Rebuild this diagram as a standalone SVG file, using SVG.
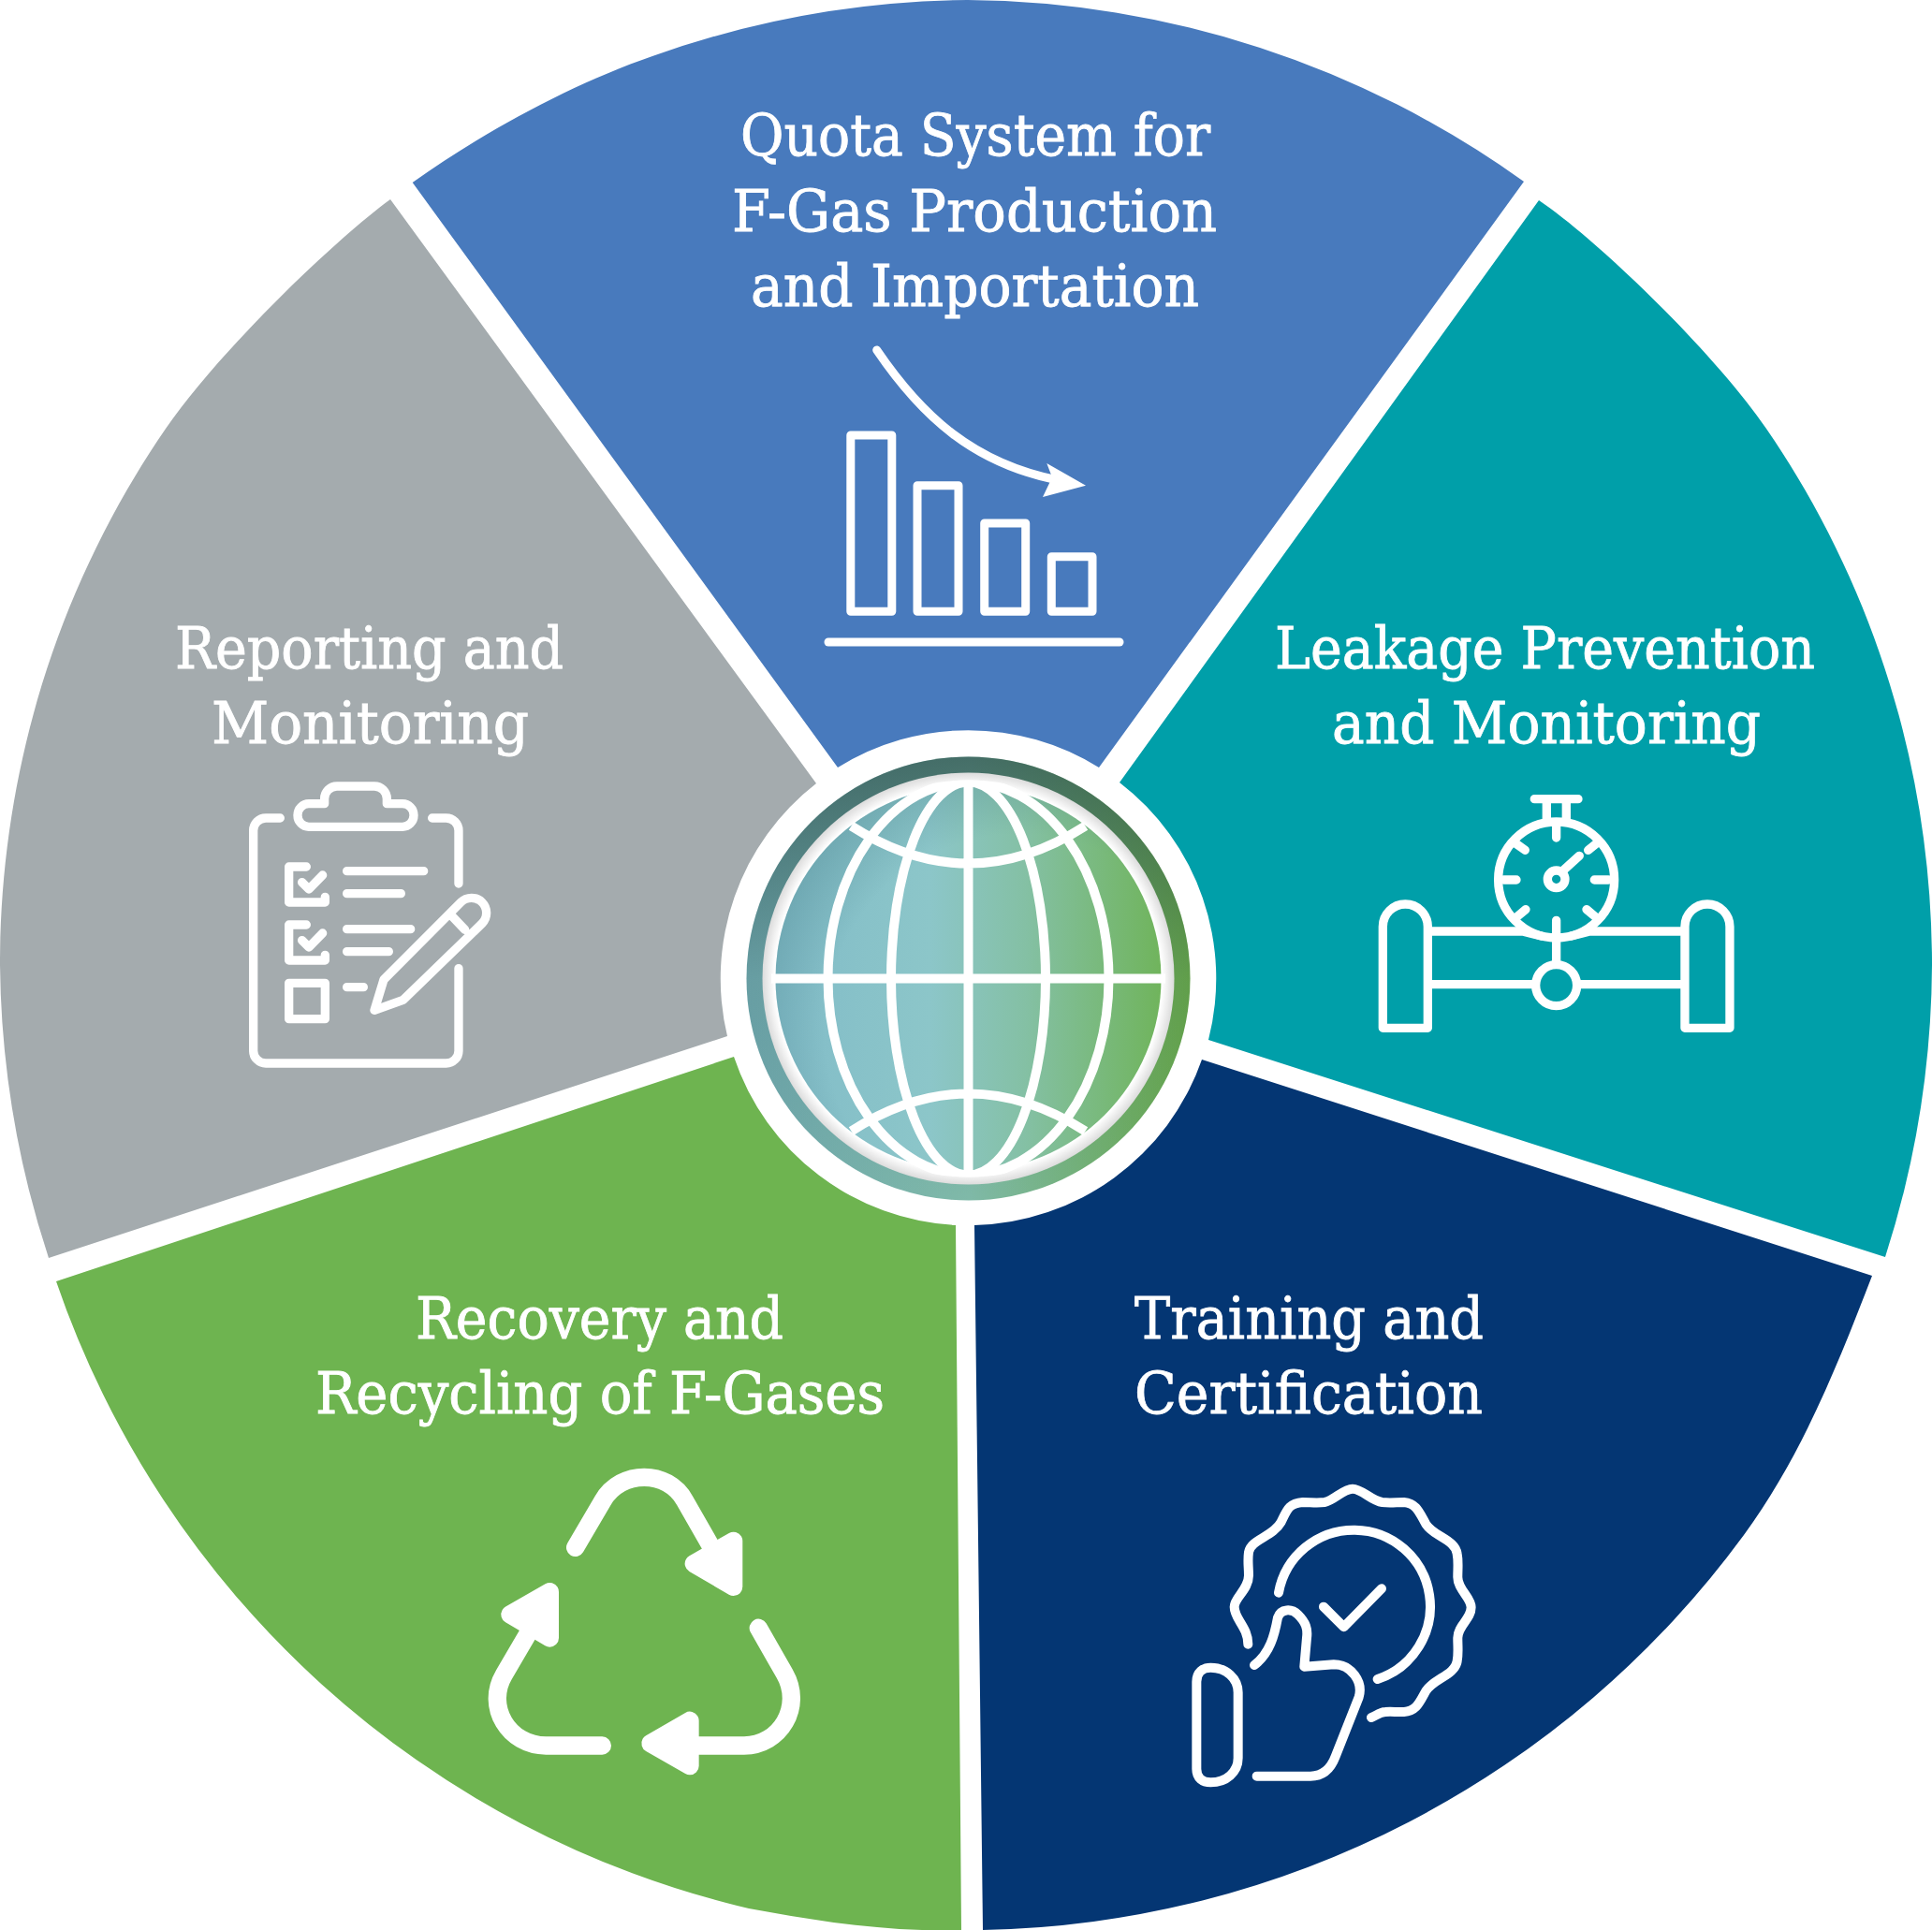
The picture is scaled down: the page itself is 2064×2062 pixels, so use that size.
<svg xmlns="http://www.w3.org/2000/svg" width="2064" height="2062" viewBox="0 0 2064 2062">
<style>
.t{font-family:"DejaVu Serif","Liberation Serif",serif;font-stretch:condensed;font-size:62px;fill:#fff;stroke:#fff;stroke-width:.8px;text-anchor:start}
.i{fill:none;stroke:#fff;stroke-linecap:round;stroke-linejoin:round}
.g{fill:none;stroke:#fff;stroke-width:10}
</style>
<defs>
<linearGradient id="ringH" x1="0" x2="1" y1="0" y2="0"><stop offset="0" stop-color="#6fa8ae"/><stop offset=".5" stop-color="#7fb9a8"/><stop offset="1" stop-color="#68a94c"/></linearGradient>
<linearGradient id="ringV" x1="0" x2="0" y1="0" y2="1"><stop offset="0" stop-color="#1e3c3c" stop-opacity=".6"/><stop offset=".5" stop-color="#1e3c3c" stop-opacity=".1"/><stop offset="1" stop-color="#1e3c3c" stop-opacity="0"/></linearGradient>
<linearGradient id="disk" x1="0" x2="1" y1="0" y2="0"><stop offset="0" stop-color="#82bcc8"/><stop offset=".4" stop-color="#8cc6c9"/><stop offset=".65" stop-color="#84c0a4"/><stop offset="1" stop-color="#70b45c"/></linearGradient>
<radialGradient id="shade" gradientUnits="userSpaceOnUse" cx="1090" cy="1100" r="290"><stop offset=".72" stop-color="#3f7780" stop-opacity="0"/><stop offset="1" stop-color="#3f7780" stop-opacity=".32"/></radialGradient>
<radialGradient id="rim" gradientUnits="userSpaceOnUse" cx="1034.5" cy="1045.5" r="220"><stop offset=".94" stop-color="#fff"/><stop offset="1" stop-color="#dcdcdc"/></radialGradient>
<clipPath id="gc"><circle cx="1034.5" cy="1045.5" r="212"/></clipPath>
</defs>
<g id="seg-quota"><path fill="#487abd" d="M440.7,195 C515,142 610,90 697,60 A1032,1032 0 0 1 1034,0 A1032,1032 0 0 1 1628,194 L1174,820 A264,264 0 0 0 895,820 Z"/></g>
<g id="seg-leakage"><path fill="#009fa9" d="M1644,214 C1705,255 1830,375 1887,458 C2003,627 2064,826 2064,1031 A1032,1032 0 0 1 2014,1343 L1291,1111 A264,264 0 0 0 1196,836 Z"/></g>
<g id="seg-training"><path fill="#043673" d="M2000,1363 C1963,1459 1924,1557 1863,1640 A1032,1032 0 0 1 1050,2062 L1041,1309 A264,264 0 0 0 1284,1132 Z"/></g>
<g id="seg-recovery"><path fill="#6eb450" d="M1027,2062 H985 C920,2060 860,2050 800,2039 A1032,1032 0 0 1 60,1369 L784,1129 A264,264 0 0 0 1021,1309 Z"/></g>
<g id="seg-reporting"><path fill="#a4abae" d="M52,1344 A1032,1032 0 0 1 0,1031 C0,826 61,627 177,458 C234,375 359,255 417,213 L872,837 A264,264 0 0 0 777,1107 Z"/></g>
<g id="globe">
<circle cx="1034.5" cy="1045.5" r="237" fill="url(#ringH)"/>
<circle cx="1034.5" cy="1045.5" r="237" fill="url(#ringV)"/>
<circle cx="1034.5" cy="1045.5" r="220" fill="url(#rim)"/>
<circle cx="1034.5" cy="1045.5" r="206" fill="url(#disk)"/>
<circle cx="1034.5" cy="1045.5" r="206" fill="url(#shade)"/>
<g clip-path="url(#gc)" class="g">
<ellipse cx="1034.5" cy="1045.5" rx="150" ry="210"/>
<ellipse cx="1034.5" cy="1045.5" rx="82.5" ry="210"/>
<path d="M1034.5,835V1256M824,1045.5H1245M909.5,882.5Q1034.5,962.5 1159.5,882.5M909.5,1208.5Q1034.5,1128.5 1159.5,1208.5"/>
</g>
</g>
<g id="icon-chart" class="i" stroke-width="9">
<rect x="908.8" y="465" width="44" height="188.3"/><rect x="980" y="518.7" width="44" height="134.6"/><rect x="1051.7" y="559" width="44" height="94.3"/><rect x="1123.3" y="594.7" width="43.7" height="58.6"/>
<path d="M885,686H1196"/>
<path d="M936.7,374C985,445 1040,495 1130,513"/>
<path fill="#fff" stroke="none" d="M1160,518.7L1118.3,495L1124,510L1114,531Z"/>
</g>
<g id="icon-valve" class="i" transform="translate(1440,830) scale(.3333)" style="stroke-width:28">
<path d="M598,71H738M637,71V140M700,71V140"/>
<circle cx="668" cy="330" r="186"/>
<path d="M668,150V195M668,460V515M500,330H540M790,330H835M540,215L568,235M795,215L770,235M540,450L570,425M795,450L765,425M690,300L742,253"/>
<circle cx="668" cy="328" r="28"/>
<path d="M270,495H560Q590,503 620,510M716,510Q745,503 775,495H1066M270,665H590M748,665H1066M668,515V600"/>
<circle cx="668" cy="668" r="66"/>
<path d="M112,805V480A72,72 0 0 1 256,480V805ZM1080,805V480A72,72 0 0 1 1224,480V805Z"/>
</g>
<g id="icon-clipboard" class="i" transform="translate(240,820) scale(.3333)" style="stroke-width:28">
<path d="M178,162H132A40,40 0 0 0 92,202V908A40,40 0 0 0 132,948H710A40,40 0 0 0 750,908V644"/>
<path d="M665,162H710A40,40 0 0 1 750,202V372"/>
<path d="M270,190A36,36 0 0 1 234,154V152A36,36 0 0 1 270,116H320V100A40,40 0 0 1 360,60H480A40,40 0 0 1 520,100V116H570A36,36 0 0 1 606,152V154A36,36 0 0 1 570,190Z"/>
<path d="M262,318H206V432H322V415M248,368L270,390L314,345M392,332H638M392,404H565"/>
<path d="M262,504H206V618H322V601M248,554L270,576L314,531M392,518H596M392,590H526M392,704H445"/>
<rect x="206" y="691" width="116" height="115"/>
<path d="M480,778L510,680L757,432A47,47 0 0 1 825,500L572,745ZM730,478L770,520"/>
</g>
<g id="icon-badge" class="i" transform="translate(1260,1570) scale(.3333)" style="stroke-width:30">
<path d="M220,560C220,505 176,480 176,440C176,410 222,385 222,340C222,310 218,295 222,265C228,225 300,215 325,170C345,130 350,108 395,105C420,105 440,108 465,105C495,100 525,62 555,62C585,62 615,100 650,105C675,108 695,105 720,105C760,108 770,140 790,175C815,215 885,225 890,270C895,295 892,315 892,345C892,385 935,410 935,442C935,480 892,500 892,540C892,570 895,590 890,615C882,660 815,670 790,710C770,745 760,775 720,777C695,778 680,775 660,777C640,778 630,790 615,795"/>
<path d="M318,395A245,245 0 1 1 635,672"/>
<path d="M462,440L527,505L648,382"/>
<path d="M240,627C290,590 305,530 315,475C325,445 360,445 380,465C405,490 412,510 408,540L400,632L495,625C550,625 590,680 575,730L500,920C485,960 460,983 420,983L248,983"/>
<path d="M55,680C55,650 75,635 100,635C150,635 188,670 188,715V925C188,970 150,1003 100,1003C75,1003 55,990 55,960Z"/>
</g>
<g id="icon-recycle" class="i" transform="translate(500,1550) scale(.3333)" style="stroke-width:58">
<path d="M344,310L432,160C490,60 640,60 695,160L775,300"/>
<path d="M931,568L1015,715C1075,820 1000,945 885,945H720"/>
<path d="M430,945H250C130,945 55,820 115,718L190,590"/>
<path fill="#fff" d="M851,289V436L724,362Z"/>
<path fill="#fff" d="M711,865V1010L585,938Z"/>
<path fill="#fff" d="M262,452V600L135,525Z"/>
</g>
<g id="labels">
<text class="t" x="791" y="166" textLength="502" lengthAdjust="spacingAndGlyphs">Quota System for</text>
<text class="t" x="782" y="247" textLength="518" lengthAdjust="spacingAndGlyphs">F-Gas Production</text>
<text class="t" x="802" y="327" textLength="479" lengthAdjust="spacingAndGlyphs">and Importation</text>
<text class="t" x="1362" y="714" textLength="577" lengthAdjust="spacingAndGlyphs">Leakage Prevention</text>
<text class="t" x="1423" y="794" textLength="458" lengthAdjust="spacingAndGlyphs">and Monitoring</text>
<text class="t" x="187" y="714" textLength="415" lengthAdjust="spacingAndGlyphs">Reporting and</text>
<text class="t" x="226" y="794" textLength="339" lengthAdjust="spacingAndGlyphs">Monitoring</text>
<text class="t" x="444" y="1430" textLength="393" lengthAdjust="spacingAndGlyphs">Recovery and</text>
<text class="t" x="337" y="1510" textLength="608" lengthAdjust="spacingAndGlyphs">Recycling of F-Gases</text>
<text class="t" x="1212" y="1430" textLength="373" lengthAdjust="spacingAndGlyphs">Training and</text>
<text class="t" x="1212" y="1510" textLength="372" lengthAdjust="spacingAndGlyphs">Certification</text>
</g>
</svg>
